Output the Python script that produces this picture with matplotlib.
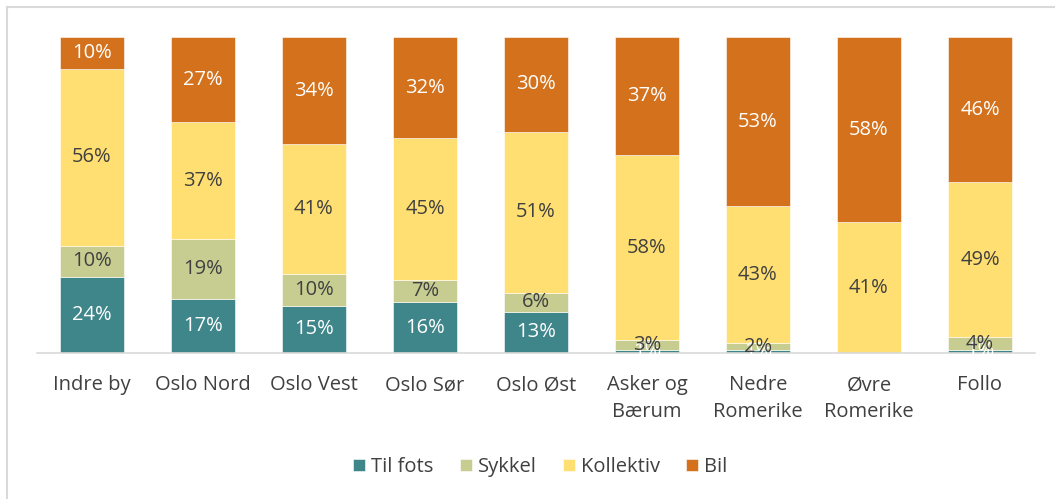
import matplotlib
matplotlib.use("Agg")
import matplotlib.pyplot as plt
from matplotlib.lines import Line2D
import numpy as np

plt.rcParams['font.family'] = ['Open Sans', 'DejaVu Sans']

categories = ["Indre by", "Oslo Nord", "Oslo Vest", "Oslo Sør", "Oslo Øst",
              "Asker og\nBærum", "Nedre\nRomerike", "Øvre\nRomerike", "Follo"]
series_names = ["Til fots", "Sykkel", "Kollektiv", "Bil"]
til_fots = [24, 17, 15, 16, 13, 1, 1, 0, 1]
sykkel = [10, 19, 10, 7, 6, 3, 2, 0, 4]
kollektiv = [56, 37, 41, 45, 51, 58, 43, 41, 49]
bil = [10, 27, 34, 32, 30, 37, 53, 58, 46]

colors = ["#3F868B", "#C7CD91", "#FFDF71", "#D3711D"]
label_colors = ["white", "#404040", "#404040", "white"]

data = np.array([til_fots, sykkel, kollektiv, bil], dtype=float)
totals = data.sum(axis=0)
shares = data / totals * 100  # 100 % stacked

fig = plt.figure(figsize=(10.55, 4.99), dpi=100)
ax = fig.add_axes([0.0346, 0.2926, 0.9469, 0.6333])
x = np.arange(len(categories))
bottom = np.zeros(len(categories))
for i, name in enumerate(series_names):
    ax.bar(x, shares[i], bottom=bottom, width=0.58, color=colors[i],
           edgecolor="white", linewidth=0.4, label=name)
    for j in range(len(categories)):
        if data[i, j] >= 1:
            ax.text(x[j], bottom[j] + shares[i, j] / 2, f"{data[i, j]:.0f}%",
                    ha="center", va="center", fontsize=14.5,
                    color=label_colors[i])
    bottom += shares[i]

ax.set_xlim(-0.5, len(categories) - 0.5)
ax.set_ylim(0, 100)
ax.set_yticks([])
ax.set_xticks(x)
ax.set_xticklabels(categories, fontsize=14.5, color="#404040", linespacing=1.45)
ax.tick_params(axis="x", length=0, pad=16)
for s in ["top", "right", "left"]:
    ax.spines[s].set_visible(False)
ax.spines["bottom"].set_color("#D9D9D9")
ax.spines["bottom"].set_linewidth(1.2)

handles, labels = ax.get_legend_handles_labels()
leg = fig.legend(handles, labels, loc="center", bbox_to_anchor=(0.512, 0.064),
                 ncol=4, frameon=False, fontsize=14.5, handlelength=0.6,
                 handleheight=0.6, handletextpad=0.3, columnspacing=1.3)
for t in leg.get_texts():
    t.set_color("#404040")

# chart frame
fig.add_artist(Line2D([6.5 / 1055, 1.0], [1 - 7 / 499, 1 - 7 / 499],
                      transform=fig.transFigure, color="#D9D9D9", lw=1.5))
fig.add_artist(Line2D([6.5 / 1055, 6.5 / 1055], [0, 1 - 7 / 499],
                      transform=fig.transFigure, color="#D9D9D9", lw=1.5))

fig.savefig("out.png", dpi=100, facecolor="white")
